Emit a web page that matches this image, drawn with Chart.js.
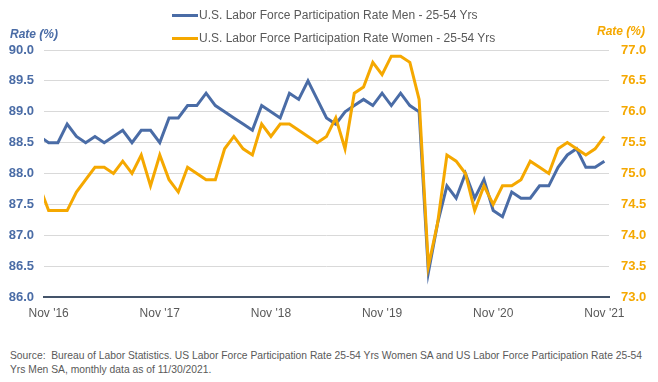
<!DOCTYPE html>
<html>
<head>
<meta charset="utf-8">
<script src="https://cdn.jsdelivr.net/npm/chart.js@4.4.1/dist/chart.umd.min.js"></script>
<style>
    html, body { margin: 0; padding: 0; background: #fff; }
    #wrap { position: relative; width: 658px; height: 382px; font-family: "Liberation Sans", Arial, sans-serif; }
    #lfprChart { position: absolute; left: 0; top: 0; }
    .legend-item { position: absolute; left: 172px; height: 16px; display: flex; align-items: center; font-size: 12px; color: #595959; white-space: nowrap; }
    .legend-item .sw { display: inline-block; width: 26px; height: 3px; margin-right: 1px; }
    .axis-title { position: absolute; font-weight: bold; font-style: italic; font-size: 12px; white-space: nowrap; }
    #note { position: absolute; left: 10px; top: 349px; width: 642px; font-size: 10.3px; line-height: 14px; color: #595959; }
</style>
</head>
<body>
<div id="wrap">
    <canvas id="lfprChart" width="658" height="330"></canvas>
    <div class="legend-item" style="top:7px"><span class="sw" style="background:#4a6ca6"></span>U.S. Labor Force Participation Rate Men - 25-54 Yrs</div>
    <div class="legend-item" style="top:30px"><span class="sw" style="background:#f5a800"></span>U.S. Labor Force Participation Rate Women - 25-54 Yrs</div>
    <div class="axis-title" style="left:10px; top:27px; color:#4a6ca6">Rate (%)</div>
    <div class="axis-title" style="left:597px; top:24px; color:#f5a800">Rate (%)</div>
    <div id="note">Source:&nbsp; Bureau of Labor Statistics. US Labor Force Participation Rate 25-54 Yrs Women SA and US Labor Force Participation Rate 25-54 Yrs Men SA, monthly data as of 11/30/2021.</div>
</div>
<script>
// monthly, Oct 2016 .. Nov 2021 (Oct '16 only peeks in at the left edge)
const startYear = 2016, startMonth = 9;
const monthNames = ['Jan', 'Feb', 'Mar', 'Apr', 'May', 'Jun', 'Jul', 'Aug', 'Sep', 'Oct', 'Nov', 'Dec'];

const menRate = [88.6, 88.5, 88.5, 88.8, 88.6, 88.5, 88.6, 88.5, 88.6, 88.7, 88.5, 88.7, 88.7,
    88.5, 88.9, 88.9, 89.1, 89.1, 89.3, 89.1, 89.0, 88.9, 88.8, 88.7, 89.1,
    89.0, 88.9, 89.3, 89.2, 89.5, 89.2, 88.9, 88.8, 89.0, 89.1, 89.2, 89.1,
    89.3, 89.1, 89.3, 89.1, 89.0, 86.4, 87.2, 87.8, 87.6, 88.0, 87.6, 87.9,
    87.4, 87.3, 87.7, 87.6, 87.6, 87.8, 87.8, 88.1, 88.3, 88.4, 88.1, 88.1, 88.2];

const womenRate = [74.8, 74.4, 74.4, 74.4, 74.7, 74.9, 75.1, 75.1, 75.0, 75.2, 75.0, 75.3, 74.8,
    75.3, 74.9, 74.7, 75.1, 75.0, 74.9, 74.9, 75.4, 75.6, 75.4, 75.3, 75.8,
    75.6, 75.8, 75.8, 75.7, 75.6, 75.5, 75.6, 75.9, 75.4, 76.3, 76.4, 76.8,
    76.6, 76.9, 76.9, 76.8, 76.2, 73.5, 74.2, 75.3, 75.2, 75.0, 74.4, 74.8,
    74.5, 74.8, 74.8, 74.9, 75.2, 75.1, 75.0, 75.4, 75.5, 75.4, 75.3, 75.4, 75.6];

const tickIndex = [1, 13, 25, 37, 49, 61];
const tickLabels = ["Nov '16", "Nov '17", "Nov '18", "Nov '19", "Nov '20", "Nov '21"];
const leftTicks = [86.0, 90.0];
const rightTicks = [73.0, 77.0];

const months = menRate.map(function (v, i) {
    const m = startMonth + i;
    return monthNames[m % 12] + ' ' + (startYear + Math.floor(m / 12));
});

Chart.defaults.font.family = '"Liberation Sans", Arial, sans-serif';

const ctx = document.getElementById('lfprChart').getContext('2d');
const lfprChart = new Chart(ctx, {
    type: 'line',
    data: {
        labels: months,
        datasets: [{
            label: 'U.S. Labor Force Participation Rate Men - 25-54 Yrs',
            data: menRate.map(function (v, i) { return { x: i, y: v }; }),
            yAxisID: 'y',
            borderColor: '#4a6ca6',
            borderWidth: 3,
            pointRadius: 0,
            tension: 0,
            clip: 0,
            order: 1
        }, {
            label: 'U.S. Labor Force Participation Rate Women - 25-54 Yrs',
            data: womenRate.map(function (v, i) { return { x: i, y: v }; }),
            yAxisID: 'y2',
            borderColor: '#f5a800',
            borderWidth: 3,
            pointRadius: 0,
            tension: 0,
            clip: 0,
            order: 0
        }]
    },
    options: {
        responsive: false,
        animation: false,
        layout: {
            padding: { left: 9, right: 9, top: 50, bottom: 8 }
        },
        scales: {
            x: {
                type: 'linear',
                min: 0.5,
                max: 61.5,
                afterBuildTicks: function (scale) {
                    scale.ticks = tickIndex.map(function (v) { return { value: v }; });
                },
                afterFit: function (scale) { scale.height = 25; },
                ticks: {
                    padding: 9,
                    color: '#595959',
                    font: { size: 12 },
                    maxRotation: 0,
                    autoSkip: false,
                    callback: function (value) {
                        const k = tickIndex.indexOf(value);
                        return k >= 0 ? tickLabels[k] : '';
                    }
                },
                grid: { display: false, drawTicks: false },
                border: { display: true, color: '#44546a', width: 2 }
            },
            y: {
                position: 'left',
                min: leftTicks[0],
                max: leftTicks[1],
                afterFit: function (scale) { scale.width = 35; },
                ticks: {
                    stepSize: 0.5,
                    padding: 10,
                    color: '#4a6ca6',
                    font: { size: 13, weight: 'bold' },
                    callback: function (value) { return value.toFixed(1); }
                },
                grid: { color: '#d9d9d9', lineWidth: 1, drawTicks: false },
                border: { display: false }
            },
            y2: {
                position: 'right',
                min: rightTicks[0],
                max: rightTicks[1],
                afterFit: function (scale) { scale.width = 40; },
                ticks: {
                    stepSize: 0.5,
                    padding: 12,
                    color: '#f5a800',
                    font: { size: 13, weight: 'bold' },
                    callback: function (value) { return value.toFixed(1); }
                },
                grid: { display: false, drawTicks: false },
                border: { display: false }
            }
        },
        plugins: {
            legend: { display: false },
            tooltip: { enabled: false }
        }
    }
});
</script>
</body>
</html>
